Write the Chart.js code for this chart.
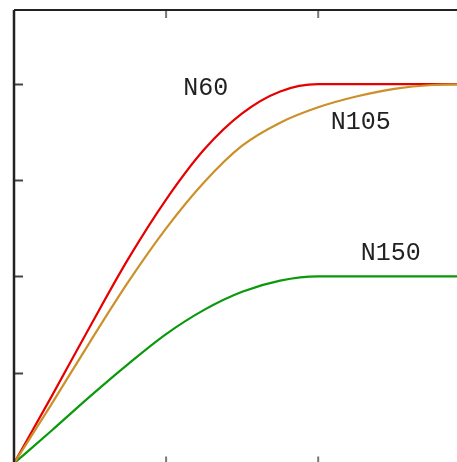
<!DOCTYPE html>
<html>
<head>
<meta charset="utf-8">
<script src="https://cdn.jsdelivr.net/npm/chart.js@4/dist/chart.umd.min.js"></script>
<style>
	html, body { margin: 0; padding: 0; overflow: hidden; background: #fff; }
	#wrap { position: absolute; left: 0; top: 0; width: 457px; height: 470px; }
</style>
</head>
<body>
<div id="wrap"><canvas id="myChart" width="457" height="470"></canvas></div>
<script>
	// trục hoành (đơn vị theo vạch chia)
	var xs = [0, 0.25, 0.5, 0.75, 1, 1.25, 1.5, 1.75, 2, 2.25, 2.5, 2.75, 3];
	// ba đường cong theo liều N
	var n60 = [0.014, 0.19, 0.37, 0.545, 0.70, 0.83, 0.924, 0.981, 1.0, 1.0, 1.0, 1.0, 1.0];
	var n105 = [0.014, 0.17, 0.33, 0.485, 0.625, 0.745, 0.84, 0.9, 0.94, 0.968, 0.988, 0.998, 1.0];
	var n150 = [0.014, 0.1, 0.188, 0.272, 0.35, 0.413, 0.46, 0.489, 0.5, 0.5, 0.5, 0.5, 0.5];
	// vạch chia
	var yTicks = [0.25, 0.5, 0.75, 1.0];
	var xTicks = [1, 2];
	// nhãn đặt trên biểu đồ: [text, x, y]
	var labels = [["N60", 1.26, 0.988], ["N105", 2.28, 0.902], ["N150", 2.477, 0.561]];

	function pts(ys) {
		return xs.map(function (x, i) { return { x: x, y: ys[i] }; });
	}

	function line(label, ys, color) {
		return {
			label: label,
			data: pts(ys),
			borderColor: color,
			borderWidth: 2.2,
			pointRadius: 0,
			fill: false,
			cubicInterpolationMode: 'monotone'
		};
	}

	// vẽ trục, vạch chia và nhãn
	var axesPlugin = {
		id: 'axesPlugin',
		afterDatasetsDraw: function (chart) {
			var c = chart.ctx, a = chart.chartArea;
			var sx = chart.scales.x, sy = chart.scales.y;
			c.save();
			c.lineCap = 'butt';
			// vạch chia trục tung
			c.strokeStyle = '#444';
			c.lineWidth = 2;
			yTicks.forEach(function (v) {
				var p = Math.round(sy.getPixelForValue(v)) + 0.5;
				c.beginPath(); c.moveTo(a.left, p); c.lineTo(a.left + 9, p); c.stroke();
			});
			// vạch chia trên và dưới
			c.strokeStyle = '#777';
			xTicks.forEach(function (v) {
				var p = sx.getPixelForValue(v);
				c.beginPath(); c.moveTo(p, a.top); c.lineTo(p, a.top + 8); c.stroke();
				c.beginPath(); c.moveTo(p, a.bottom); c.lineTo(p, a.bottom - 7); c.stroke();
			});
			// khung
			c.strokeStyle = '#222';
			c.lineWidth = 2;
			c.beginPath(); c.moveTo(a.left, a.top); c.lineTo(a.right, a.top); c.stroke();
			c.lineWidth = 2.5;
			c.beginPath(); c.moveTo(a.left, a.top); c.lineTo(a.left, a.bottom + 5); c.stroke();
			// nhãn các đường
			c.fillStyle = '#222';
			c.font = '25px "Liberation Mono", monospace';
			c.textAlign = 'center';
			c.textBaseline = 'middle';
			labels.forEach(function (l) {
				c.fillText(l[0], sx.getPixelForValue(l[1]), sy.getPixelForValue(l[2]));
			});
			c.restore();
		}
	};

	var ctx = document.getElementById("myChart").getContext("2d");
	var myChart = new Chart(ctx, {
		type: 'line',
		data: {
			datasets: [
				line("N105", n105, '#cc9029'),
				line("N60", n60, '#e60000'),
				line("N150", n150, '#0a990a')
			]
		},
		options: {
			responsive: false,
			animation: false,
			layout: { padding: { left: 14, top: 10, right: 0, bottom: 6.5 } },
			scales: {
				x: { type: 'linear', min: 0, max: 2.9125, display: false },
				y: { type: 'linear', min: 0.0135, max: 1.193, display: false }
			},
			plugins: {
				legend: { display: false },
				tooltip: { enabled: false }
			}
		},
		plugins: [axesPlugin]
	});
</script>
</body>
</html>
